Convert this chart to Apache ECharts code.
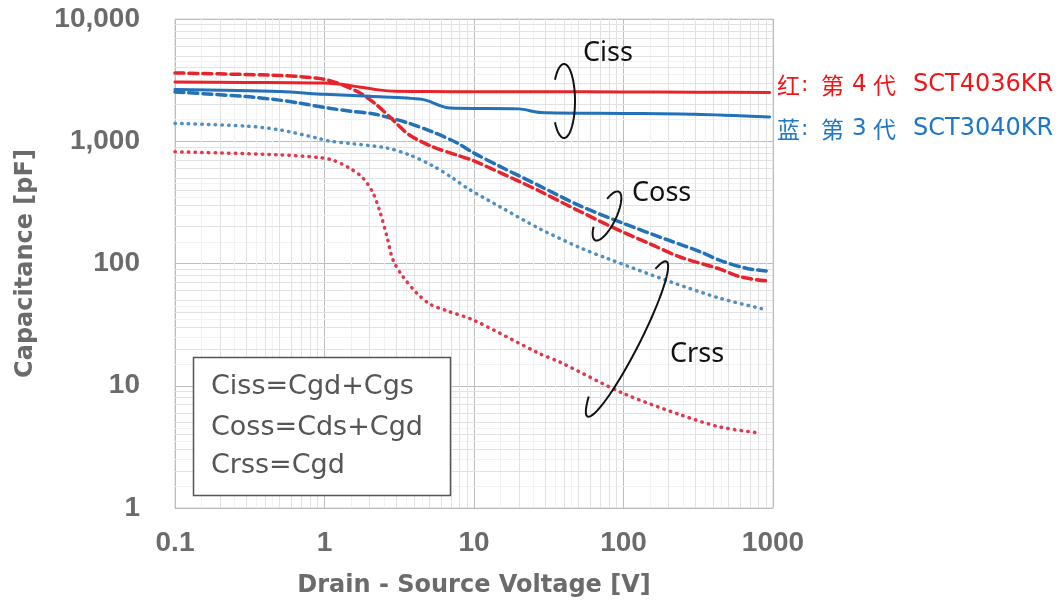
<!DOCTYPE html>
<html>
<head>
<meta charset="utf-8">
<script src="https://cdn.jsdelivr.net/npm/echarts@6/dist/echarts.min.js"></script>
<style>
html,body{margin:0;padding:0;background:#fff;}
#chart{width:1059px;height:604px;}
</style>
</head>
<body>
<div id="chart"></div>
<script>
// ---- data ----
const xTickLabels = ['0.1', '1', '10', '100', '1000'];
const yTickLabels = ['1', '10', '100', '1,000', '10,000'];

// Gen 4: SCT4036KR (red)
const cissGen4V = [0.1, 0.3, 1, 1.3, 1.7, 2.2, 3, 5, 10, 30, 100, 300, 950];
const cissGen4C = [3050, 3030, 2990, 2920, 2780, 2650, 2560, 2550, 2540, 2540, 2530, 2520, 2500];
const cossGen4V = [0.1, 0.5, 0.9, 1.1, 1.33, 1.73, 2.24, 2.87, 3.7, 5.3, 7.7, 10, 20, 27.6, 50, 95, 150, 239, 442, 600, 900];
const cossGen4C = [3620, 3450, 3280, 3120, 2880, 2480, 1980, 1490, 1125, 900, 770, 690, 470, 390, 270, 185, 145, 113, 90, 78, 72];
const crssGen4V = [0.1, 0.5, 0.93, 1.14, 1.48, 1.81, 2.11, 2.35, 2.62, 2.87, 3.35, 4.16, 5.08, 6.6, 9.9, 27, 37.6, 99, 239, 442, 820];
const crssGen4C = [820, 775, 735, 700, 600, 500, 378, 264, 165, 107, 78, 57, 46.5, 41, 34.5, 18.5, 15.6, 8.7, 5.8, 4.6, 4.1];

// Gen 3: SCT3040KR (blue)
const cissGen3V = [0.1, 0.5, 1, 2, 4.5, 6.9, 20, 28, 100, 300, 950];
const cissGen3C = [2650, 2550, 2420, 2330, 2200, 1870, 1840, 1720, 1690, 1660, 1580];
const cossGen3V = [0.1, 0.3, 0.5, 0.68, 1.08, 1.5, 2.1, 2.87, 3.7, 5.3, 7.7, 10, 15, 27.6, 50, 95, 200, 325, 442, 670, 900];
const cossGen3C = [2530, 2320, 2170, 2050, 1860, 1760, 1680, 1530, 1400, 1190, 970, 800, 620, 430, 300, 218, 155, 125, 106, 91, 87];
const crssGen3V = [0.1, 0.3, 0.5, 0.9, 1.09, 1.48, 2.62, 3.7, 5.3, 7.2, 9.1, 15, 27.6, 51, 78, 205, 442, 855];
const crssGen3C = [1400, 1330, 1240, 1060, 1000, 960, 880, 773, 630, 500, 410, 290, 192, 135, 110, 71, 52, 42.5];

// minor grid positions
const minorMult = [2, 3, 4, 5, 6, 7, 8, 9];
const fineMult = [1.5, 2.5, 3.5, 4.5];
const xDecades = [0.1, 1, 10, 100];
const yDecades = [1, 10, 100, 1000];

// ---- build ----
function pairs(v, c) { return v.map((x, i) => [x, c[i]]); }
function gridVals(decades, mults) {
  const out = [];
  decades.forEach(d => mults.forEach(m => out.push(+(d * m).toPrecision(6))));
  return out;
}

const RED = '#e8232b', BLUE = '#2372b9', RED_DOT = '#e0384f', BLUE_DOT = '#4f8fc2';

const chart = echarts.init(document.getElementById('chart'), null, {renderer: 'canvas'});

function lineSeries(name, data, color, type, width) {
  return {
    name: name, type: 'line', data: data, showSymbol: false, symbol: 'none',
    smooth: 0.3, silent: true, z: 5,
    lineStyle: {color: color, width: width, type: type, cap: 'round', join: 'round'},
    emphasis: {disabled: true}, animation: false
  };
}

function gridLineSeries(xs, ys, color, z) {
  return {
    type: 'line', data: [], silent: true, animation: false, z: z,
    markLine: {
      silent: true, symbol: ['none', 'none'], animation: false,
      label: {show: false},
      lineStyle: {color: color, width: 1, type: 'solid'},
      emphasis: {disabled: true},
      data: xs.map(v => ({xAxis: v})).concat(ys.map(v => ({yAxis: v})))
    }
  };
}

const tickFont = {color: '#6b6b6b', fontFamily: 'Liberation Sans', fontWeight: 'bold', fontSize: 28};
const nameFont = {color: '#6b6b6b', fontFamily: 'DejaVu Sans', fontWeight: 'bold', fontSize: 24};

const option = {
  animation: false,
  backgroundColor: '#ffffff',
  grid: {left: 175, right: 286, top: 19, bottom: 96, show: true, borderColor: '#cfcfcf', borderWidth: 1, backgroundColor: '#ffffff'},
  xAxis: {
    type: 'log', logBase: 10, min: 0.1, max: 1000,
    name: 'Drain - Source Voltage [V]', nameLocation: 'middle', nameGap: 66,
    nameTextStyle: nameFont,
    axisLine: {show: false}, axisTick: {show: false},
    axisLabel: Object.assign({margin: 21, formatter: v => xTickLabels[Math.round(Math.log10(v)) + 1]}, tickFont),
    splitLine: {show: true, lineStyle: {color: '#bdbdbd', width: 1}}
  },
  yAxis: {
    type: 'log', logBase: 10, min: 1, max: 10000,
    name: 'Capacitance [pF]', nameLocation: 'middle', nameGap: 137,
    nameTextStyle: nameFont,
    axisLine: {show: false}, axisTick: {show: false},
    axisLabel: Object.assign({margin: 35, formatter: v => yTickLabels[Math.round(Math.log10(v))]}, tickFont),
    splitLine: {show: true, lineStyle: {color: '#bdbdbd', width: 1}}
  },
  series: [
    gridLineSeries(gridVals(xDecades, fineMult), gridVals(yDecades, fineMult), '#f2f2f2', 0),
    gridLineSeries(gridVals(xDecades, minorMult), gridVals(yDecades, minorMult), '#e2e2e2', 1),
    lineSeries('Crss SCT4036KR', pairs(crssGen4V, crssGen4C), RED_DOT, [0.5, 6.2], 3.5),
    lineSeries('Crss SCT3040KR', pairs(crssGen3V, crssGen3C), BLUE_DOT, [0.5, 6.2], 3.5),
    lineSeries('Coss SCT3040KR', pairs(cossGen3V, cossGen3C), BLUE, [9, 5], 3.5),
    lineSeries('Coss SCT4036KR', pairs(cossGen4V, cossGen4C), RED, [9, 5], 3.5),
    lineSeries('Ciss SCT3040KR', pairs(cissGen3V, cissGen3C), BLUE, 'solid', 3),
    lineSeries('Ciss SCT4036KR', pairs(cissGen4V, cissGen4C), RED, 'solid', 3)
  ]
};
chart.setOption(option);

// ---- annotations (decorative) ----
function ellipsePts(cx, cy, rx, ry, rotDeg, t0, t1) {
  const pts = [], r = rotDeg * Math.PI / 180, n = 60;
  for (let i = 0; i <= n; i++) {
    const t = (t0 + (t1 - t0) * i / n) * Math.PI / 180;
    const x = rx * Math.cos(t), y = ry * Math.sin(t);
    pts.push([cx + x * Math.cos(r) - y * Math.sin(r), cy + x * Math.sin(r) + y * Math.cos(r)]);
  }
  return pts;
}
function arc(cx, cy, rx, ry, rot, t0, t1) {
  return {type: 'polyline', silent: true, z: 20,
    shape: {points: ellipsePts(cx, cy, rx, ry, rot, t0, t1)},
    style: {stroke: '#111', lineWidth: 2, fill: null}};
}
function txt(x, y, s, font, color, size, align, weight) {
  return {type: 'text', x: x, y: y, silent: true, z: 21,
    style: {text: s, fill: color, font: (weight || 'normal') + ' ' + size + 'px ' + font, align: align || 'left', verticalAlign: 'middle'}};
}
const annFont = '"Noto Sans", sans-serif';
const boxFont = '"DejaVu Sans", sans-serif';
const latinFont = '"DejaVu Sans", sans-serif';
const cjkFont = '"Noto Sans CJK SC", sans-serif';

function sideLabel(y, color, mark, gen, part) {
  return [
    txt(777, y, mark, cjkFont, color, 23),
    txt(801, y, ':', latinFont, color, 22),
    txt(821, y, '第', cjkFont, color, 23),
    txt(852, y, gen, latinFont, color, 23),
    txt(873, y, '代', cjkFont, color, 23),
    txt(913, y, part, latinFont, color, 24)
  ];
}

chart.setOption({
  graphic: [
    {type: 'rect', z: 19, silent: true, shape: {x: 193.5, y: 357.5, width: 257, height: 138},
     style: {fill: '#fff', stroke: '#555', lineWidth: 1.5}},
    txt(211, 387, 'Ciss=Cgd+Cgs', boxFont, '#555', 27),
    txt(211, 428, 'Coss=Cds+Cgd', boxFont, '#555', 27),
    txt(211, 466, 'Crss=Cgd', boxFont, '#555', 27),
    arc(564, 101, 11, 37, 0, 215, 505),
    arc(607, 216, 9, 27, 26, 215, 505),
    arc(627, 339, 13, 87, 27, 240, 488),
    txt(583, 53, 'Ciss', annFont, '#111', 27),
    txt(632, 193, 'Coss', annFont, '#111', 27),
    txt(670, 354, 'Crss', annFont, '#111', 27)
  ].concat(sideLabel(85, '#f21419', '红', '4', 'SCT4036KR'))
   .concat(sideLabel(129, '#1d77c6', '蓝', '3', 'SCT3040KR'))
});
</script>
</body>
</html>
